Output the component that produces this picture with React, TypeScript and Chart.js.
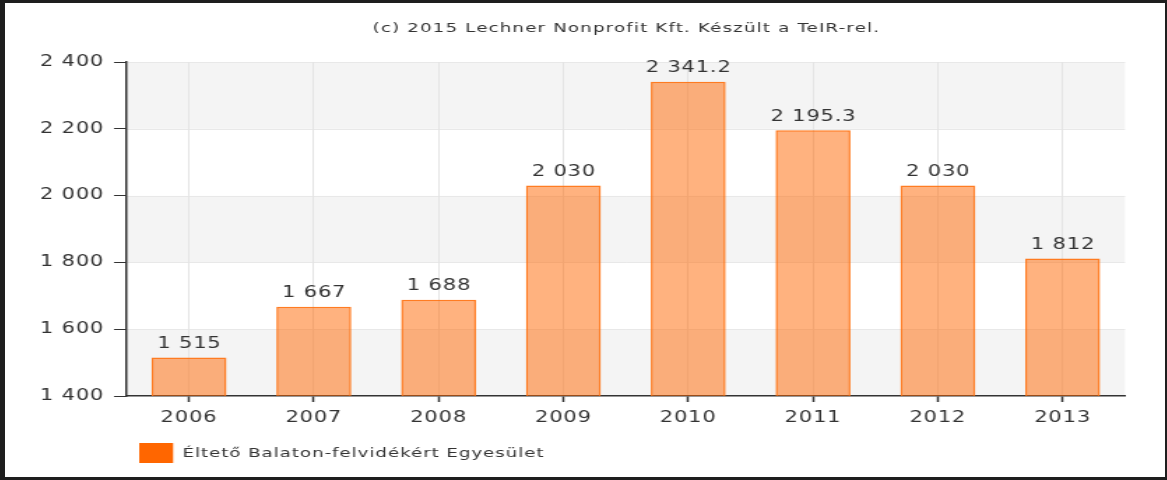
import React, { useEffect, useRef } from 'react';
import { Chart, registerables } from 'chart.js';

Chart.register(...registerables);

const categories = ['2006', '2007', '2008', '2009', '2010', '2011', '2012', '2013'];
const values = [1515, 1667, 1688, 2030, 2341.2, 2195.3, 2030, 1812];
const yTicks = [1400, 1600, 1800, 2000, 2200, 2400];
const seriesLabel = 'Éltető Balaton-felvidékért Egyesület';
const titleText = '(c) 2015 Lechner Nonprofit Kft. Készült a TeIR-rel.';

const FONT = 'DejaVu Sans';
const CW = 830;
const CH = 474;
const OUTW = 1160;

function fmt(v: number): string {
  const [i, d] = String(v).split('.');
  return i.replace(/\B(?=(\d{3})+(?!\d))/g, ' ') + (d ? '.' + d : '');
}

const decor = {
  id: 'decor',
  beforeDraw(chart: any) {
    const { ctx, chartArea } = chart;
    (ctx as any).letterSpacing = '0.6px';
    const y = chart.scales.y;
    ctx.save();
    for (let i = 0; i < yTicks.length - 1; i++) {
      const top = y.getPixelForValue(yTicks[i + 1]);
      const bot = y.getPixelForValue(yTicks[i]);
      ctx.fillStyle = i % 2 === 0 ? '#f4f4f4' : '#ffffff';
      ctx.fillRect(chartArea.left, top, chartArea.right - chartArea.left, bot - top);
    }
    ctx.strokeStyle = '#e8e8e8';
    ctx.lineWidth = 1;
    for (let i = 1; i < yTicks.length; i++) {
      const py = Math.round(y.getPixelForValue(yTicks[i])) + 0.5;
      ctx.beginPath();
      ctx.moveTo(chartArea.left, py);
      ctx.lineTo(chartArea.right, py);
      ctx.stroke();
    }
    ctx.restore();
  },
  afterDatasetsDraw(chart: any) {
    const { ctx } = chart;
    const meta = chart.getDatasetMeta(0);
    ctx.save();
    ctx.fillStyle = '#333333';
    ctx.font = `15px "${FONT}"`;
    (ctx as any).letterSpacing = '0.6px';
    ctx.textAlign = 'center';
    ctx.textBaseline = 'bottom';
    meta.data.forEach((bar: any, i: number) => {
      ctx.fillText(fmt(values[i]), bar.x + 0.3, bar.y - 6);
    });
    ctx.restore();
  },
  afterDraw(chart: any) {
    const { ctx, chartArea } = chart;
    ctx.save();
    ctx.fillStyle = '#333333';
    ctx.font = `13px "${FONT}"`;
    (ctx as any).letterSpacing = '0.85px';
    ctx.textAlign = 'center';
    ctx.textBaseline = 'middle';
    ctx.fillText(titleText, (chartArea.left + chartArea.right) / 2 + 0.4, 26);
    // legend
    ctx.fillStyle = '#ff6600';
    ctx.fillRect(96, 440, 24.3, 20);
    ctx.fillStyle = '#333333';
    (ctx as any).letterSpacing = '0.7px';
    ctx.textAlign = 'left';
    ctx.fillText(seriesLabel, 127, 451);
    ctx.restore();
  },
};

export default function App() {
  const ref = useRef<HTMLCanvasElement | null>(null);
  useEffect(() => {
    if (!ref.current) return;
    const chart = new Chart(ref.current, {
      type: 'bar',
      data: {
        labels: categories,
        datasets: [
          {
            label: seriesLabel,
            data: values,
            backgroundColor: 'rgba(255,102,0,0.5)',
            borderColor: 'rgba(255,110,10,0.9)',
            borderWidth: 1.5,
            categoryPercentage: 0.6,
            barPercentage: 1,
          },
        ],
      },
      options: {
        responsive: false,
        devicePixelRatio: 1,
        animation: false,
        layout: { padding: { top: 59, right: 28.6, bottom: 0, left: 0 } },
        plugins: {
          legend: { display: false },
          title: { display: false },
          tooltip: { enabled: false },
        },
        scales: {
          x: {
            grid: {
              offset: false,
              color: '#e4e4e4',
              lineWidth: 1,
              drawTicks: true,
              tickColor: '#333333',
              tickLength: 6,
              tickWidth: 1.5,
            },
            border: { color: '#333333', width: 1.5 },
            ticks: { color: '#333333', font: { family: FONT, size: 15 }, padding: 7 },
            afterFit: (s: any) => {
              s.height = 81;
            },
          },
          y: {
            min: 1400,
            max: 2400,
            afterBuildTicks: (s: any) => {
              s.ticks = yTicks.map((v) => ({ value: v }));
            },
            grid: {
              drawOnChartArea: false,
              drawTicks: true,
              tickColor: '#333333',
              tickLength: 9,
              tickWidth: 1,
            },
            border: { color: '#333333', width: 1.5 },
            ticks: {
              color: '#333333',
              font: { family: FONT, size: 15 },
              padding: 7,
              callback: (v: any) => fmt(Number(v)),
            },
            afterFit: (s: any) => {
              s.width = 87;
            },
          },
        },
      },
      plugins: [decor],
    });
    return () => chart.destroy();
  }, []);

  return (
    <div style={{ position: 'fixed', left: 0, top: 0, width: 1167, height: 480, background: '#1e1e1e' }}>
      <div
        style={{
          position: 'absolute',
          left: 5,
          top: 3,
          width: OUTW,
          height: CH,
          background: '#ffffff',
          overflow: 'hidden',
        }}
      >
        <div style={{ transform: `scaleX(${OUTW / CW})`, transformOrigin: '0 0', width: CW, height: CH }}>
          <canvas ref={ref} width={CW} height={CH} style={{ display: 'block' }} />
        </div>
      </div>
    </div>
  );
}
